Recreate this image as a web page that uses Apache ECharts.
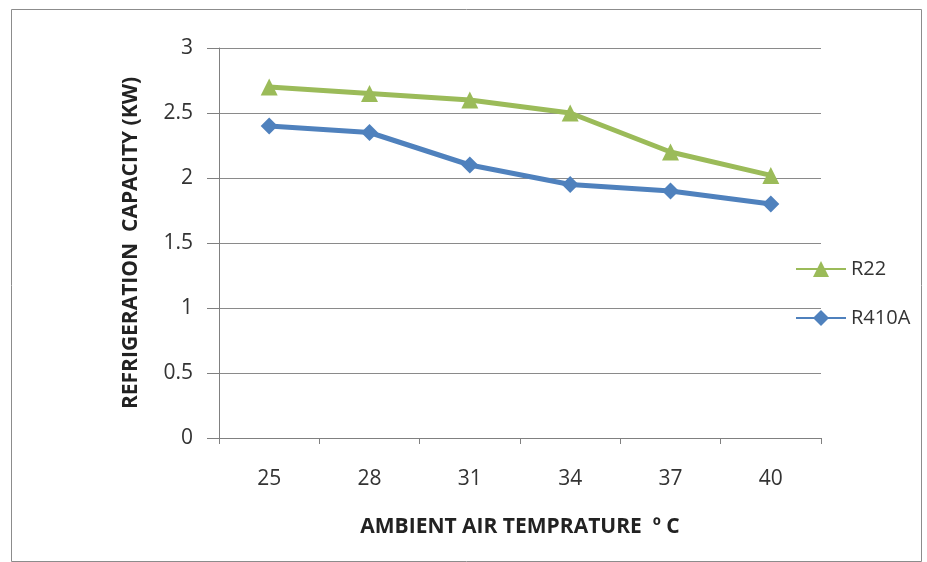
<!DOCTYPE html>
<html>
<head>
<meta charset="utf-8">
<script src="https://cdn.jsdelivr.net/npm/echarts@6/dist/echarts.min.js"></script>
<style>
html,body{margin:0;padding:0;background:#fff;}
#chart{width:927px;height:562px;}
</style>
</head>
<body>
<div id="chart"></div>
<script>
const categories = ['25', '28', '31', '34', '37', '40'];
const r22 = [2.7, 2.65, 2.6, 2.5, 2.2, 2.02];
const r410a = [2.4, 2.35, 2.1, 1.95, 1.9, 1.8];
const yTicks = [0, 0.5, 1, 1.5, 2, 2.5, 3];

const font = '"Open Sans", "Noto Sans", sans-serif';
const chart = echarts.init(document.getElementById('chart'), null, {renderer: 'canvas'});
chart.setOption({
  backgroundColor: '#fff',
  animation: false,
  graphic: [{
    type: 'rect',
    shape: {x: 11.5, y: 9.5, width: 910, height: 552},
    style: {fill: 'none', stroke: '#8c8c8c', lineWidth: 1}
  }],
  grid: {left: 219, right: 106, top: 48, bottom: 124, containLabel: false},
  legend: {
    orient: 'vertical',
    left: 790,
    top: 254,
    itemWidth: 50,
    itemHeight: 20,
    itemGap: 29,
    textStyle: {fontFamily: font, fontSize: 20, color: '#333'},
    data: ['R22', 'R410A']
  },
  xAxis: {
    type: 'category',
    data: categories,
    boundaryGap: true,
    name: 'AMBIENT AIR TEMPRATURE  º C',
    nameLocation: 'middle',
    nameGap: 79,
    nameTextStyle: {fontFamily: font, fontSize: 21, fontWeight: 'bold', color: '#222'},
    axisLine: {lineStyle: {color: '#808080', width: 1}},
    axisTick: {show: true, alignWithLabel: false, length: 6, lineStyle: {color: '#808080'}},
    axisLabel: {fontFamily: font, fontSize: 21, color: '#333', margin: 31},
    splitLine: {show: false}
  },
  yAxis: {
    type: 'value',
    min: yTicks[0],
    max: yTicks[yTicks.length - 1],
    interval: 0.5,
    name: 'REFRIGERATION  CAPACITY (KW)',
    nameLocation: 'middle',
    nameGap: 77,
    nameRotate: 90,
    nameTextStyle: {fontFamily: font, fontSize: 21, fontWeight: 'bold', color: '#222'},
    axisLine: {show: true, lineStyle: {color: '#808080', width: 1}},
    axisTick: {show: true, length: 12, lineStyle: {color: '#808080'}},
    axisLabel: {fontFamily: font, fontSize: 21, color: '#333', margin: 26},
    splitLine: {show: true, lineStyle: {color: '#8a8a8a', width: 1}}
  },
  series: [
    {
      name: 'R22',
      type: 'line',
      data: r22,
      symbol: 'triangle',
      symbolSize: 17,
      lineStyle: {color: '#9BBB59', width: 5},
      itemStyle: {color: '#9BBB59'}
    },
    {
      name: 'R410A',
      type: 'line',
      data: r410a,
      symbol: 'diamond',
      symbolSize: 17,
      lineStyle: {color: '#4F81BD', width: 5},
      itemStyle: {color: '#4F81BD'}
    }
  ]
});
</script>
</body>
</html>
